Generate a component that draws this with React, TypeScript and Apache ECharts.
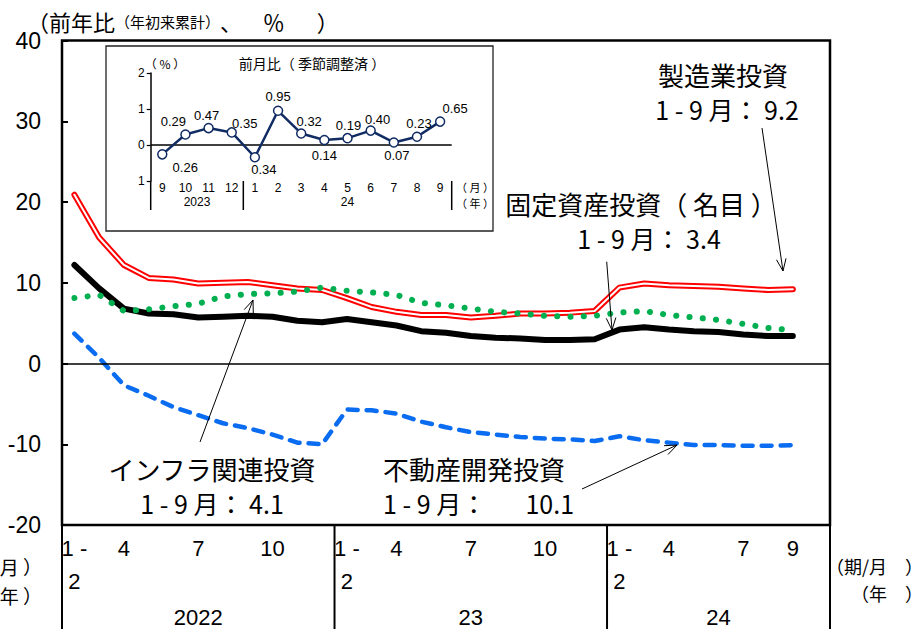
import React, { useEffect, useRef } from 'react';
import * as echarts from 'echarts';

// ---------- DATA ----------
const categories = [
  '2022/1-2', '2022/3', '2022/4', '2022/5', '2022/6', '2022/7', '2022/8', '2022/9', '2022/10', '2022/11', '2022/12',
  '2023/1-2', '2023/3', '2023/4', '2023/5', '2023/6', '2023/7', '2023/8', '2023/9', '2023/10', '2023/11', '2023/12',
  '2024/1-2', '2024/3', '2024/4', '2024/5', '2024/6', '2024/7', '2024/8', '2024/9', '2024/10',
];
const xTickLabels = [
  '1 -\n2', '', '4', '', '', '7', '', '', '10', '', '',
  '1 -\n2', '', '4', '', '', '7', '', '', '10', '', '',
  '1 -\n2', '', '4', '', '', '7', '', '9', '',
];
const yearLabels = ['2022', '23', '24'];
const yearSpans = [11, 11, 9];

const fixedAsset = [12.2, 9.3, 6.8, 6.2, 6.1, 5.7, 5.8, 5.9, 5.8, 5.3, 5.1, 5.5, 5.1, 4.7, 4.0, 3.8, 3.4, 3.2, 3.1, 2.9, 2.9, 3.0, 4.2, 4.5, 4.2, 4.0, 3.9, 3.6, 3.4, 3.4];
const manufacturing = [20.9, 15.6, 12.2, 10.6, 10.4, 9.9, 10.0, 10.1, 9.7, 9.3, 9.1, 8.1, 7.0, 6.4, 6.0, 6.0, 5.7, 5.9, 6.2, 6.2, 6.3, 6.5, 9.4, 9.9, 9.7, 9.6, 9.5, 9.3, 9.1, 9.2];
const infrastructure = [8.1, 8.5, 6.5, 6.7, 7.1, 7.4, 8.3, 8.6, 8.7, 8.9, 9.4, 9.0, 8.8, 8.5, 7.5, 7.2, 6.8, 6.4, 6.2, 5.9, 5.8, 5.9, 6.3, 6.5, 6.0, 5.7, 5.4, 4.9, 4.4, 4.1];
const realEstate = [3.7, 0.7, -2.7, -4.0, -5.4, -6.4, -7.4, -8.0, -8.8, -9.8, -10.0, -5.7, -5.8, -6.2, -7.2, -7.9, -8.5, -8.8, -9.1, -9.3, -9.4, -9.6, -9.0, -9.5, -9.8, -10.1, -10.1, -10.2, -10.2, -10.1];

const insetMonths = ['9', '10', '11', '12', '1', '2', '3', '4', '5', '6', '7', '8', '9'];
const insetValues = [-0.26, 0.29, 0.47, 0.35, -0.34, 0.95, 0.32, 0.14, 0.19, 0.40, 0.07, 0.23, 0.65];
const insetYears = ['2023', '24'];
const insetYearSpans = [4, 9];

// ---------- STYLE / LAYOUT ----------
const SANS = '"Liberation Sans", Arial, sans-serif';
const JP = '"Noto Sans CJK JP", "Noto Sans", sans-serif';
const NAVY = '#112B63';
const G = { left: 62, right: 830, top: 40.5, bottom: 525 };
const IG = { left: 150.7, right: 451.7, top: 73, bottom: 181 };
const insetLabelPlace: [string, number, number][] = [
  ['bottom', 23, 0], ['top', -12, 0], ['top', -2, 0], ['top', 13, 4], ['bottom', 9, 0],
  ['top', 0, -2], ['top', 8, 1], ['bottom', 0, 3], ['top', 1, 0], ['top', 7, 2],
  ['bottom', 3, 0], ['top', 2, 0], ['top', 15, 0],
];

function arrow(x1: number, y1: number, x2: number, y2: number): any[] {
  const ang = Math.atan2(y2 - y1, x2 - x1);
  const L = 13, a = 0.38;
  const p1 = [x2 - L * Math.cos(ang - a), y2 - L * Math.sin(ang - a)];
  const p2 = [x2 - L * Math.cos(ang + a), y2 - L * Math.sin(ang + a)];
  return [
    { type: 'line', shape: { x1, y1, x2, y2 }, style: { stroke: '#000', lineWidth: 1 }, z: 10 },
    { type: 'polyline', shape: { points: [p1, [x2, y2], p2] }, style: { stroke: '#000', lineWidth: 1, fill: null }, z: 10 },
  ];
}

function txt(x: number, y: number, text: string, font: number, family: string, align = 'center', z = 10): any {
  return {
    type: 'text', x, y, z,
    style: { text, font: `${font}px ${family}`, fill: '#000', align, verticalAlign: 'middle' },
  };
}

export default function App() {
  const ref = useRef<HTMLDivElement>(null);
  useEffect(() => {
    document.body.style.margin = '0';
    const chart = echarts.init(ref.current!, null, { renderer: 'svg' });
    const slot = (G.right - G.left) / categories.length;
    const islot = (IG.right - IG.left) / insetMonths.length;

    const graphics: any[] = [];
    // inset box
    graphics.push({ type: 'rect', shape: { x: 106, y: 46, width: 387, height: 185 }, style: { fill: '#fff', stroke: '#222', lineWidth: 1.3 }, z: 1 });
    graphics.push(txt(165, 63, '（ % ）', 12, JP));
    graphics.push(txt(312, 63, '前月比（ 季節調整済 ）', 14, JP));
    // inset dividers & year labels
    let acc = 0;
    const ibounds = [0];
    insetYearSpans.forEach((s) => { acc += s; ibounds.push(acc); });
    ibounds.forEach((b) => {
      const x = IG.left + b * islot;
      graphics.push({ type: 'line', shape: { x1: x, y1: IG.bottom, x2: x, y2: 210 }, style: { stroke: '#000', lineWidth: 1.5 }, z: 6 });
    });
    insetYears.forEach((y, i) => {
      const cx = IG.left + ((ibounds[i] + ibounds[i + 1]) / 2) * islot;
      graphics.push(txt(cx, 201.7, y, 12, SANS, 'center', 6));
    });
    graphics.push(txt(475, 186.7, '（ 月 ）', 11, JP, 'center', 6));
    graphics.push(txt(475, 203, '（ 年 ）', 11, JP, 'center', 6));

    // main title
    graphics.push({
      type: 'text', x: 27, y: 21, z: 10,
      style: {
        text: '{b|（前年比}{s|（年初来累計）}{b|、　  ％　  ）}',
        verticalAlign: 'middle',
        rich: {
          b: { font: `22px ${JP}`, fill: '#000' },
          s: { font: `15px ${JP}`, fill: '#000' },
        },
      },
    });

    // x-axis table dividers & years
    acc = 0;
    const bounds = [0];
    yearSpans.forEach((s) => { acc += s; bounds.push(acc); });
    bounds.forEach((b) => {
      const x = G.left + b * slot;
      graphics.push({ type: 'line', shape: { x1: x, y1: G.bottom, x2: x, y2: 629 }, style: { stroke: '#000', lineWidth: 2 }, z: 6 });
    });
    yearLabels.forEach((y, i) => {
      const cx = G.left + ((bounds[i] + bounds[i + 1]) / 2) * slot;
      graphics.push(txt(cx, 617, y, 22, SANS));
    });
    graphics.push(txt(923, 566, '（期/月　）', 18, JP, 'right'));
    graphics.push(txt(923, 593, '（年　）', 18, JP, 'right'));
    graphics.push(txt(42, 566, '（月 ）', 19, JP, 'right'));
    graphics.push(txt(42, 595, '（年 ）', 19, JP, 'right'));

    // annotations
    graphics.push(txt(723, 74, '製造業投資', 26, JP));
    graphics.push(txt(727, 109, '1 - 9 月： 9.2', 25, JP));
    graphics.push(txt(641, 203, '固定資産投資（ 名目 ）', 26, JP));
    graphics.push(txt(649, 238, '1 - 9 月： 3.4', 25, JP));
    graphics.push(txt(212, 468, 'インフラ関連投資', 26, JP));
    graphics.push(txt(212, 503, '1 - 9 月： 4.1', 25, JP));
    graphics.push(txt(383, 468, '不動産開発投資', 26, JP, 'left'));
    graphics.push(txt(383, 503, '1 - 9 月：       10.1', 25, JP, 'left'));
    graphics.push(...arrow(762, 128, 783, 271));
    graphics.push(...arrow(606.7, 261.7, 612, 330));
    graphics.push(...arrow(200, 442, 253, 300));
    graphics.push(...arrow(582, 489, 677, 445));

    const option: any = {
      animation: false,
      backgroundColor: '#fff',
      grid: [
        { left: G.left, top: G.top, width: G.right - G.left, height: G.bottom - G.top, show: true, borderColor: '#000', borderWidth: 2.5, backgroundColor: 'transparent' },
        { left: IG.left, top: IG.top, width: IG.right - IG.left, height: IG.bottom - IG.top, z: 5 },
      ],
      xAxis: [
        {
          type: 'category', gridIndex: 0, data: categories, boundaryGap: true,
          axisLine: { show: false }, axisTick: { show: false }, splitLine: { show: false },
          axisLabel: {
            interval: 0, formatter: (_v: string, i: number) => xTickLabels[i],
            fontSize: 22, fontFamily: SANS, color: '#000', lineHeight: 33, margin: 7,
          },
        },
        {
          type: 'category', gridIndex: 1, data: insetMonths, boundaryGap: true, z: 5,
          axisLine: { show: false }, axisTick: { show: false }, splitLine: { show: false },
          axisLabel: { interval: 0, fontSize: 12, fontFamily: SANS, color: '#000', margin: 1 },
        },
      ],
      yAxis: [
        {
          type: 'value', gridIndex: 0, min: -20, max: 40, interval: 10,
          axisLine: { show: false },
          axisTick: { show: true, inside: true, length: 6, lineStyle: { color: '#000', width: 2 } },
          axisLabel: { fontSize: 23, fontFamily: SANS, color: '#000', margin: 21 },
          splitLine: { show: false },
        },
        {
          type: 'value', gridIndex: 1, min: -1, max: 2, interval: 1, z: 5,
          axisLine: { show: true, lineStyle: { color: '#000', width: 1.5 } },
          axisTick: { show: true, length: 4, lineStyle: { color: '#000', width: 1.2 } },
          axisLabel: { fontSize: 12, fontFamily: SANS, color: '#000', margin: 6, formatter: (v: number) => String(Math.abs(v)) },
          splitLine: { show: false },
        },
      ],
      graphic: graphics,
      series: [
        {
          name: '不動産開発投資', type: 'line', data: realEstate, symbol: 'none', z: 2,
          lineStyle: { color: '#0A6CF0', width: 4.5, type: [10, 9], cap: 'round' },
        },
        {
          name: '固定資産投資', type: 'line', data: fixedAsset, symbol: 'none', z: 3,
          lineStyle: { color: '#000', width: 6, cap: 'round', join: 'round' },
          markLine: {
            silent: true, symbol: ['none', 'none'], label: { show: false },
            lineStyle: { color: '#000', width: 1.5, type: 'solid' },
            data: [{ yAxis: 0 }],
          },
        },
        {
          name: '製造業投資', type: 'line', data: manufacturing, symbol: 'none', z: 3,
          lineStyle: { color: '#FF0000', width: 6, cap: 'round', join: 'round' },
        },
        {
          name: '製造業投資(core)', type: 'line', data: manufacturing, symbol: 'none', z: 3,
          lineStyle: { color: '#fff', width: 2, cap: 'round', join: 'round' },
        },
        {
          name: 'インフラ関連投資', type: 'line', data: infrastructure, symbol: 'none', z: 4,
          lineStyle: { color: '#00B050', width: 6, type: [0.1, 13.2], cap: 'round' },
        },
        {
          name: '前月比', type: 'line', xAxisIndex: 1, yAxisIndex: 1, z: 6,
          data: insetValues.map((v, i) => ({
            value: v,
            label: { position: insetLabelPlace[i][0], offset: [insetLabelPlace[i][1], insetLabelPlace[i][2]] },
          })),
          symbol: 'circle', symbolSize: 9,
          itemStyle: { color: '#fff', borderColor: NAVY, borderWidth: 1.5 },
          lineStyle: { color: NAVY, width: 2.5 },
          label: { show: true, fontSize: 13, fontFamily: SANS, color: '#000', distance: 1, formatter: (p: any) => Math.abs(p.value).toFixed(2) },
          markLine: {
            silent: true, symbol: ['none', 'none'], label: { show: false },
            lineStyle: { color: '#000', width: 1.5, type: 'solid' },
            data: [{ yAxis: 0 }],
          },
        },
      ],
    };
    chart.setOption(option);
    return () => chart.dispose();
  }, []);
  return <div ref={ref} style={{ position: 'absolute', left: 0, top: 0, width: 923, height: 629 }} />;
}
